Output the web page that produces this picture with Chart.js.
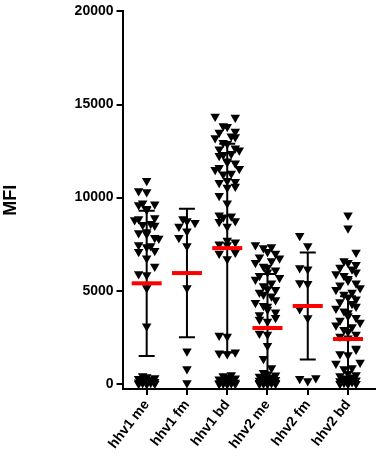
<!DOCTYPE html>
<html>
<head>
<meta charset="utf-8">
<script src="https://cdn.jsdelivr.net/npm/chart.js@4.4.0/dist/chart.umd.min.js"></script>
<style>
  html, body { margin: 0; padding: 0; background: #fff; }
  #wrap { width: 383px; height: 458px; }
</style>
</head>
<body>
<div id="wrap"><canvas id="mfiChart"></canvas></div>
<script>
// groups on the x axis
const groupLabels = ["hhv1 me", "hhv1 fm", "hhv1 bd", "hhv2 me", "hhv2 fm", "hhv2 bd"];

// MFI values, one list per group
const hhv1Me = [10900, 10350, 10300, 9700, 9650, 9600, 9400, 9350, 8900, 8850, 8800, 8600, 8550, 8500,
  8150, 8100, 8050, 7850, 7800, 7450, 7400, 7350, 7150, 7100, 6750, 6300, 5900, 5850, 5150, 3100,
  420, 370, 320, 270, 230, 190, 150, 120, 90, 60, 40, 20, 10, 0, 0];
const hhv1Fm = [8850, 8750, 8650, 8450, 8200, 7850, 7400, 5150, 1750, 800, 50];
const hhv1Bd = [14350, 14300, 13850, 13800, 13550, 13500, 13300, 13250, 13200, 12950, 12900, 12650, 12600, 12550,
  12350, 12300, 12250, 11950, 11900, 11850, 11600, 11550, 11500, 11300, 11250, 10900, 10850, 10800,
  10600, 10550, 10100, 9700, 9050, 9000, 8950, 8750, 8700, 8450, 7700, 7600, 7500, 7450, 7050, 7000,
  6700, 2600, 2550, 1700, 1650, 1600,
  480, 420, 360, 300, 250, 200, 150, 110, 80, 50, 30, 20, 10, 5, 0, 0];
const hhv2Me = [7450, 7350, 7300, 7100, 7000, 6800, 6750, 6600, 6500, 6300, 6250, 6100, 6000, 5800, 5700,
  5600, 5400, 5250, 5100, 5050, 4900, 4800, 4700, 4500, 4350, 4200, 4150, 4000, 3850, 3700, 3550, 3450,
  3350, 2700, 2650, 2050, 1350, 850,
  600, 520, 460, 400, 350, 300, 260, 220, 180, 150, 120, 100, 80, 60, 40, 25, 15, 5, 0, 0];
const hhv2Fm = [7950, 7400, 6220, 6160, 5420, 5380, 4020, 3540, 320, 270, 160];
const hhv2Bd = [9050, 8350, 7050, 6600, 6500, 6400, 6250, 6150, 6000, 5900, 5800, 5650, 5550, 5400, 5300,
  5150, 5050, 4900, 4800, 4650, 4550, 4400, 4300, 4150, 4050, 3900, 3800, 3650, 3550, 3400, 3300, 3150,
  3050, 2900, 2800, 2650, 2550, 2450, 1900, 1850, 1600, 1550, 1150, 1100, 850, 800,
  550, 480, 420, 360, 300, 250, 200, 150, 100, 60, 30, 10, 0, 0];

// mean and SD per group (red line and black whiskers)
const groupMeans = [5400, 5950, 7290, 3000, 4180, 2410];
const groupSds = [3900, 3450, 5600, 2900, 2870, 2300];

const yTicks = [0, 5000, 10000, 15000, 20000];
const allGroups = [hhv1Me, hhv1Fm, hhv1Bd, hhv2Me, hhv2Fm, hhv2Bd];

// spread points of one column sideways so close values do not sit on top of each other
function spreadColumn(values, index) {
  const slots = [0, -0.1, 0.1, -0.2, 0.2, -0.3, 0.3];
  const placed = [];
  let overflow = 0;
  values.slice().sort((a, b) => a - b).forEach(v => {
    let dx = slots.find(s => placed.every(p => Math.abs(p.dx - s) >= 0.19 || Math.abs(p.y - v) >= 560));
    if (dx === undefined) {
      dx = slots[overflow % 5];
      overflow++;
    }
    placed.push({ dx, y: v });
  });
  return placed.map(p => ({ x: index + p.dx, y: p.y }));
}

const fontFamily = "'Liberation Sans', Arial, sans-serif";
const tickFont = { family: fontFamily, size: 14, weight: 'bold' };

// mean line + SD bars drawn on top of the points
const meanSdPlugin = {
  id: 'meanSd',
  afterDatasetsDraw(chart) {
    const { ctx, scales: { x, y } } = chart;
    ctx.save();
    groupMeans.forEach((m, i) => {
      const px = x.getPixelForValue(i);
      const hi = y.getPixelForValue(m + groupSds[i]);
      const lo = y.getPixelForValue(Math.max(m - groupSds[i], y.min));
      ctx.strokeStyle = '#000';
      ctx.lineWidth = 2;
      ctx.beginPath();
      ctx.moveTo(px, hi); ctx.lineTo(px, lo);
      ctx.moveTo(px - 8, hi); ctx.lineTo(px + 8, hi);
      ctx.moveTo(px - 8, lo); ctx.lineTo(px + 8, lo);
      ctx.stroke();
      const pm = y.getPixelForValue(m);
      ctx.strokeStyle = '#ff0000';
      ctx.lineWidth = 4;
      ctx.beginPath();
      ctx.moveTo(px - 15, pm); ctx.lineTo(px + 15, pm);
      ctx.stroke();
    });
    ctx.restore();
  }
};

new Chart(document.getElementById('mfiChart').getContext('2d'), {
  type: 'scatter',
  data: {
    datasets: allGroups.map((vals, i) => ({
      label: groupLabels[i],
      data: spreadColumn(vals, i),
      pointStyle: 'triangle',
      pointRotation: 180,
      pointRadius: 5.5,
      pointBackgroundColor: '#000',
      pointBorderWidth: 0
    }))
  },
  options: {
    responsive: true,
    maintainAspectRatio: false,
    animation: false,
    events: [],
    layout: { padding: { top: 2, right: 8, bottom: 4, left: 0 } },
    plugins: { legend: { display: false }, tooltip: { enabled: false } },
    scales: {
      x: {
        type: 'linear',
        min: -0.6,
        max: 5.67,
        afterBuildTicks: s => { s.ticks = groupLabels.map((_, i) => ({ value: i })); },
        ticks: {
          callback: v => groupLabels[v],
          autoSkip: false,
          minRotation: 52,
          maxRotation: 52,
          color: '#000',
          font: tickFont,
          padding: 2
        },
        grid: { drawOnChartArea: false, drawTicks: true, tickLength: 6, color: '#000', lineWidth: 2 },
        border: { color: '#000', width: 2 }
      },
      y: {
        min: -270,
        max: 20000,
        afterBuildTicks: s => { s.ticks = yTicks.map(v => ({ value: v })); },
        ticks: { callback: v => String(v), color: '#000', font: tickFont, padding: 3 },
        grid: { drawOnChartArea: false, drawTicks: true, tickLength: 6, color: '#000', lineWidth: 2 },
        border: { color: '#000', width: 2 },
        title: {
          display: true,
          text: 'MFI',
          color: '#000',
          font: { family: fontFamily, size: 18, weight: 'bold' },
          padding: { top: 0, bottom: 50 }
        }
      }
    }
  },
  plugins: [meanSdPlugin]
});
</script>
</body>
</html>
